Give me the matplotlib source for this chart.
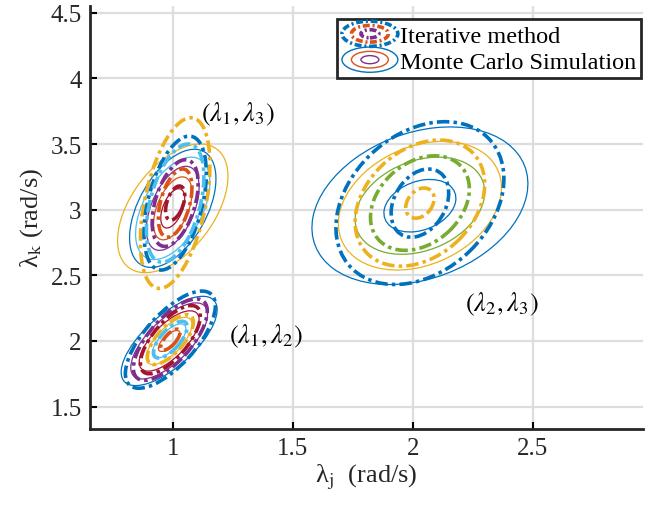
import matplotlib
matplotlib.use("Agg")
import matplotlib.pyplot as plt
import matplotlib.transforms as transforms
import numpy as np
from matplotlib.patches import Ellipse
from matplotlib.lines import Line2D
from matplotlib.legend_handler import HandlerBase

plt.rcParams["font.family"] = ["Liberation Serif", "DejaVu Serif"]
plt.rcParams["mathtext.fontset"] = "stix"
plt.rcParams["lines.scale_dashes"] = False

# MATLAB default colours
BLUE = "#0072BD"
ORANGE = "#D95319"
YELLOW = "#EDB120"
PURPLE = "#7E2F8E"
GREEN = "#77AC30"
LBLUE = "#4DBEEE"
DRED = "#A2142F"

# (lambda1, lambda3) cluster
c13_center = (1.01, 3.05)
c13_rho = 0.45
c13_iter_sx = [0.145, 0.13, 0.12, 0.096, 0.07, 0.04]
c13_iter_sy = [0.65, 0.51, 0.45, 0.33, 0.26, 0.13]
c13_iter_col = [YELLOW, BLUE, LBLUE, PURPLE, ORANGE, DRED]
c13_mc_center = (1.0, 3.01)
c13_mc_rho = 0.5
c13_mc_sx = [0.23, 0.18, 0.155, 0.11, 0.08, 0.05]
c13_mc_sy = [0.49, 0.45, 0.39, 0.32, 0.24, 0.15]
c13_mc_col = [YELLOW, BLUE, LBLUE, PURPLE, ORANGE, DRED]

# (lambda1, lambda2) cluster
c12_center = (0.99, 2.01)
c12_rho = 0.7
c12_iter_sx = [0.1875, 0.154, 0.125, 0.096, 0.07, 0.04]
c12_iter_sy = [0.37, 0.31, 0.26, 0.19, 0.14, 0.08]
c12_iter_col = [BLUE, PURPLE, DRED, YELLOW, LBLUE, ORANGE]
c12_mc_center = (0.985, 2.0)
c12_mc_rho = 0.7
c12_mc_sx = [0.2, 0.16, 0.125, 0.095, 0.07, 0.045]
c12_mc_sy = [0.34, 0.29, 0.23, 0.18, 0.13, 0.08]
c12_mc_col = [BLUE, PURPLE, DRED, YELLOW, LBLUE, ORANGE]

# (lambda2, lambda3) cluster
c23_center = (2.03, 3.05)
c23_rho = 0.3
c23_iter_sx = [0.35, 0.27, 0.206, 0.12, 0.059]
c23_iter_sy = [0.62, 0.48, 0.36, 0.26, 0.115]
c23_iter_col = [BLUE, YELLOW, GREEN, BLUE, YELLOW]
c23_mc_center = (2.03, 3.03)
c23_mc_rho = 0.28
c23_mc_sx = [0.45, 0.34, 0.27, 0.15]
c23_mc_sy = [0.6, 0.49, 0.37, 0.2]
c23_mc_col = [BLUE, YELLOW, GREEN, BLUE]

labels = [r"$(\lambda_{\mathit{1}},\lambda_{\mathit{3}})$",
          r"$(\lambda_{\mathit{1}},\lambda_{\mathit{2}})$",
          r"$(\lambda_{\mathit{2}},\lambda_{\mathit{3}})$"]
label_pos = [(1.27, 3.73), (1.39, 2.04), (2.37, 2.29)]

xticks = [1, 1.5, 2, 2.5]
yticks = [1.5, 2, 2.5, 3, 3.5, 4, 4.5]

ITER_LS = (0, (9, 3, 2.5, 3))


def add_ellipse(ax, center, sx, sy, rho, **kw):
    e = Ellipse((0, 0), width=2 * np.sqrt(1 + rho), height=2 * np.sqrt(1 - rho),
                fill=False, **kw)
    t = transforms.Affine2D().rotate_deg(45).scale(sx, sy).translate(*center)
    e.set_transform(t + ax.transData)
    ax.add_patch(e)


class EllipseHandler(HandlerBase):
    def __init__(self, lw, ls):
        super().__init__()
        self.lw = lw
        self.ls = ls

    def create_artists(self, legend, orig_handle, xdescent, ydescent,
                       width, height, fontsize, trans):
        cx = width / 2 - xdescent
        cy = height / 2 - ydescent
        arts = []
        for s, c in zip([1.0, 0.66, 0.32], [BLUE, ORANGE, PURPLE]):
            e = Ellipse((cx, cy), width * s, height * 1.25 * s, fill=False,
                        ec=c, lw=self.lw, ls=self.ls, transform=trans)
            arts.append(e)
        return arts


fig = plt.figure(figsize=(6.45, 5.1), dpi=100)
ax = fig.add_axes([0.1395, 0.157, 0.8575, 0.829])

for center, rho, sxs, sys_, cols in [
    (c13_mc_center, c13_mc_rho, c13_mc_sx, c13_mc_sy, c13_mc_col),
    (c12_mc_center, c12_mc_rho, c12_mc_sx, c12_mc_sy, c12_mc_col),
    (c23_mc_center, c23_mc_rho, c23_mc_sx, c23_mc_sy, c23_mc_col),
]:
    for sx, sy, c in zip(sxs, sys_, cols):
        add_ellipse(ax, center, sx, sy, rho, ec=c, lw=0.9)

for center, rho, sxs, sys_, cols in [
    (c13_center, c13_rho, c13_iter_sx, c13_iter_sy, c13_iter_col),
    (c12_center, c12_rho, c12_iter_sx, c12_iter_sy, c12_iter_col),
    (c23_center, c23_rho, c23_iter_sx, c23_iter_sy, c23_iter_col),
]:
    for sx, sy, c in zip(sxs, sys_, cols):
        add_ellipse(ax, center, sx, sy, rho, ec=c, lw=2.6, ls=ITER_LS)

for txt, (x, y) in zip(labels, label_pos):
    ax.text(x, y, txt, fontsize=19, ha="center", va="center")

ax.set_xlim(0.655, 2.96)
ax.set_ylim(1.33, 4.55)
ax.set_xticks(xticks)
ax.set_xticklabels(["1", "1.5", "2", "2.5"])
ax.set_yticks(yticks)
ax.set_yticklabels(["1.5", "2", "2.5", "3", "3.5", "4", "4.5"])
ax.tick_params(direction="in", length=5, width=1.5, labelsize=18,
               labelcolor="#262626", pad=6)
ax.grid(True, color="#DDDDDD", lw=1.6)
ax.set_axisbelow(True)
for side in ["top", "right"]:
    ax.spines[side].set_visible(False)
for side in ["left", "bottom"]:
    ax.spines[side].set_linewidth(2)
    ax.spines[side].set_color("#262626")

ax.set_xlabel(r"λ$_\mathrm{j}$  (rad/s)", fontsize=19, color="#262626", labelpad=2)
ax.set_ylabel(r"λ$_\mathrm{k}$ (rad/s)", fontsize=19, color="#262626", labelpad=4)

h1 = Line2D([], [])
h2 = Line2D([], [])
leg = ax.legend([h1, h2], ["Iterative method", "Monte Carlo Simulation"],
                handler_map={h1: EllipseHandler(2.6, (0, (5, 2, 1.5, 2))),
                             h2: EllipseHandler(1.0, "-")},
                loc="upper right", bbox_to_anchor=(0.997, 0.97), fontsize=17.5,
                handlelength=2.3, handleheight=0.9, handletextpad=0.1,
                borderpad=0.2, labelspacing=0.1, borderaxespad=0.0,
                fancybox=False, framealpha=1)
leg.get_frame().set_edgecolor("#262626")
leg.get_frame().set_linewidth(2)

fig.savefig("out.png", dpi=100)
